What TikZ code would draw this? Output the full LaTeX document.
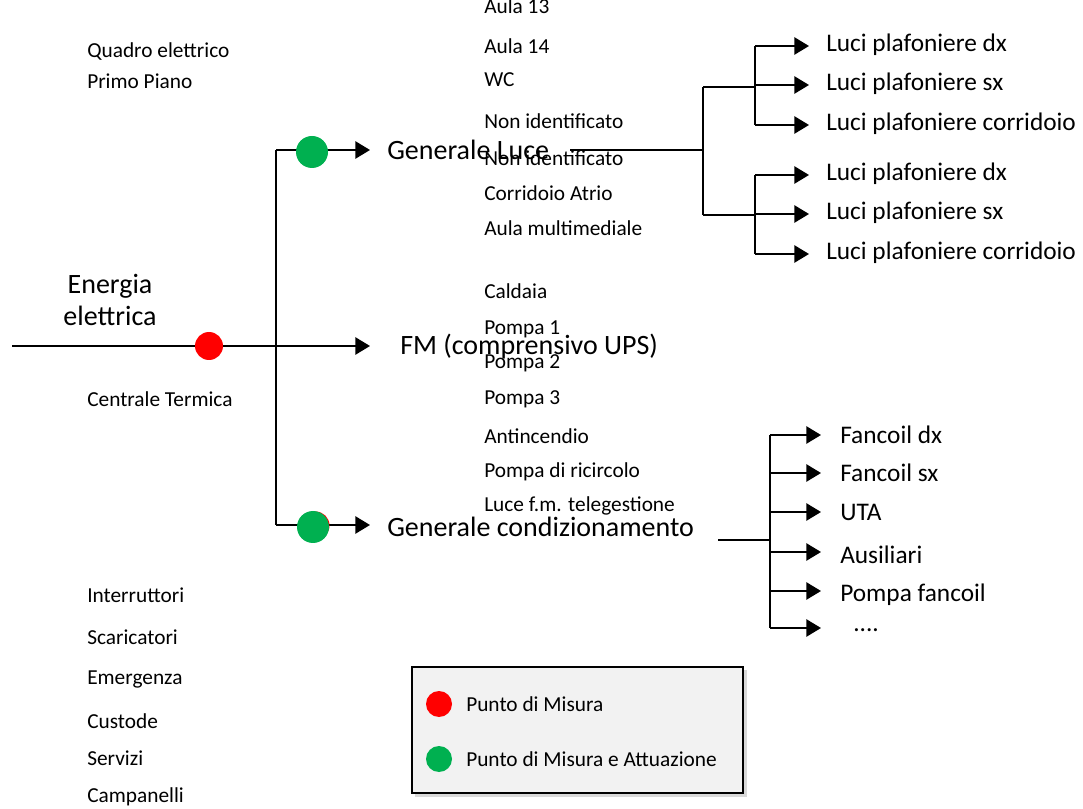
\documentclass[tikz,border=0pt]{standalone}
\usepackage{fontspec}
\setmainfont{Carlito}
\usetikzlibrary{arrows.meta}
\definecolor{mred}{HTML}{FF0000}
\definecolor{mgreen}{HTML}{00B050}
\definecolor{legfill}{HTML}{F2F2F2}
\begin{document}
\begin{tikzpicture}[x=0.75pt,y=-0.75pt,
  ln/.style={line width=1.2pt},
  arr/.style={ln,-{Triangle[length=11pt,width=13pt]}},
  sm/.style={anchor=west,inner sep=0pt,font=\fontsize{16}{19}\selectfont},
  big/.style={anchor=west,inner sep=0pt,font=\fontsize{21}{25}\selectfont},
  lbl/.style={anchor=west,inner sep=0pt,font=\fontsize{19}{23}\selectfont},
  rdot/.style={circle,fill=mred,minimum size=21pt,inner sep=0pt},
  gdot/.style={circle,fill=mgreen,minimum size=24pt,inner sep=0pt},
  ldot/.style={circle,minimum size=19.5pt,inner sep=0pt},
]
\useasboundingbox (0,0) rectangle (1083,809);
\begin{scope}
\clip (0,0) rectangle (1083,809);
% left column texts
\node[sm] (t1) at (87,52) {Quadro elettrico};
\node[sm] (t2) at (87,81) {Primo Piano};
\node[sm] (t3) at (87,399) {Centrale Termica};
\node[sm] (t4) at (87,595) {Interruttori};
\node[sm] (t5) at (87,637) {Scaricatori};
\node[sm] (t6) at (87,679) {Emergenza};
\node[sm] (t7) at (87,721) {Custode};
\node[sm] (t8) at (87,758) {Servizi};
\node[sm] (t9) at (87,797) {Campanelli};
% middle column texts
\node[sm] (m0) at (484,6) {Aula 13};
\node[sm] (m1) at (484,46) {Aula 14};
\node[sm] (m2) at (484,80) {WC};
\node[sm] (m3) at (484,121) {Non identificato};
\node[sm] (m4) at (484,158) {Non identificato};
\node[sm] (m5) at (484,193) {Corridoio Atrio};
\node[sm] (m6) at (484,228) {Aula multimediale};
\node[sm] (m7) at (484,291) {Caldaia};
\node[sm] (m8) at (484,329) {Pompa 1};
\node[sm] (m9) at (484,363) {Pompa 2};
\node[sm] (m10) at (484,399) {Pompa 3};
\node[sm] (m11) at (484,436) {Antincendio};
\node[sm] (m12) at (484,472) {Pompa di ricircolo};
\node[sm] (m13) at (484,506) {Luce f.m. telegestione};
\end{scope}

% Energia elettrica
\node[align=center,inner sep=0pt,font=\fontsize{21}{24}\selectfont] (en) at (110,300) {Energia\\elettrica};

% main trunk
\coordinate (src) at (12,346);
\coordinate (bus) at (276,346);
\coordinate (busT) at (276,150);
\coordinate (busB) at (276,525);
\coordinate (tipL) at (370,150);
\coordinate (tipF) at (370,346);
\coordinate (tipC) at (370,525);
\draw[ln] (src) -- (bus);
\draw[arr] (bus) -- (tipF);
\draw[ln] (busT) -- (busB);
\draw[arr] (busT) -- (tipL);
\draw[arr] (busB) -- (tipC);

\node[big] (gl) at (387,150) {Generale Luce};
\node[big] (fm) at (400,347) {FM (comprensivo UPS)};
\node[big] (gc) at (387,527) {Generale condizionamento};

% dots
\node[rdot] (rd) at (209,346) {};
\node[rdot] (rd2) at (315.5,525.5) {};
\node[gdot] (gd1) at (312,152) {};
\node[gdot] (gd2) at (313,527) {};

% Generale Luce branching
\coordinate (l0) at (570,150);
\coordinate (lv) at (703,150);
\coordinate (lvT) at (703,87);
\coordinate (lvB) at (703,215);
\coordinate (uJ) at (755,87);
\coordinate (uT) at (755,46);
\coordinate (uB) at (755,125);
\coordinate (dJ) at (755,215);
\coordinate (dT) at (755,175);
\coordinate (dB) at (755,254);
\draw[ln] (l0) -- (lv);
\draw[ln] (lvT) -- (lvB);
\draw[ln] (lvT) -- (uJ);
\draw[ln] (lvB) -- (dJ);
\draw[ln] (uT) -- (uB);
\draw[ln] (dT) -- (dB);
\foreach \y/\n/\t in {46/a1/Luci plafoniere dx, 85/a2/Luci plafoniere sx, 125/a3/Luci plafoniere corridoio,
                      175/a4/Luci plafoniere dx, 214/a5/Luci plafoniere sx, 254/a6/Luci plafoniere corridoio}{
  \coordinate (s\n) at (755,\y);
  \coordinate (e\n) at (809,\y);
  \draw[arr] (s\n) -- (e\n);
  \node[lbl] (\n) at (826,\y-1) {\t};
}

% Condizionamento branching
\coordinate (c0) at (718,540);
\coordinate (cv) at (770,540);
\coordinate (cvT) at (770,435);
\coordinate (cvB) at (770,628);
\draw[ln] (c0) -- (cv);
\draw[ln] (cvT) -- (cvB);
\foreach \y/\n in {435/b1, 473/b2, 512/b3, 552/b4, 591/b5, 628/b6}{
  \coordinate (s\n) at (770,\y);
  \coordinate (e\n) at (821,\y);
  \draw[arr] (s\n) -- (e\n);
}
\node[lbl] (b1) at (840,435) {Fancoil dx};
\node[lbl] (b2) at (840,473) {Fancoil sx};
\node[lbl] (b3) at (840,512) {UTA};
\node[lbl] (b4) at (840,555) {Ausiliari};
\node[lbl] (b5) at (840,595) {Pompa fancoil};
\node[lbl] (b6) at (853,630) {....};

% legend
\fill[black!15] (415,670) rectangle (747,797);
\draw[fill=legfill,line width=0.8pt] (412,667) rectangle (743,793);
\node[ldot,fill=mred] (lr) at (439,704) {};
\node[ldot,fill=mgreen] (lg) at (439,759) {};
\node[anchor=west,inner sep=0pt,font=\fontsize{16}{19}\selectfont] (lrt) at (466,704) {Punto di Misura};
\node[anchor=west,inner sep=0pt,font=\fontsize{16}{19}\selectfont] (lgt) at (466,759) {Punto di Misura e Attuazione};
\end{tikzpicture}
\end{document}
